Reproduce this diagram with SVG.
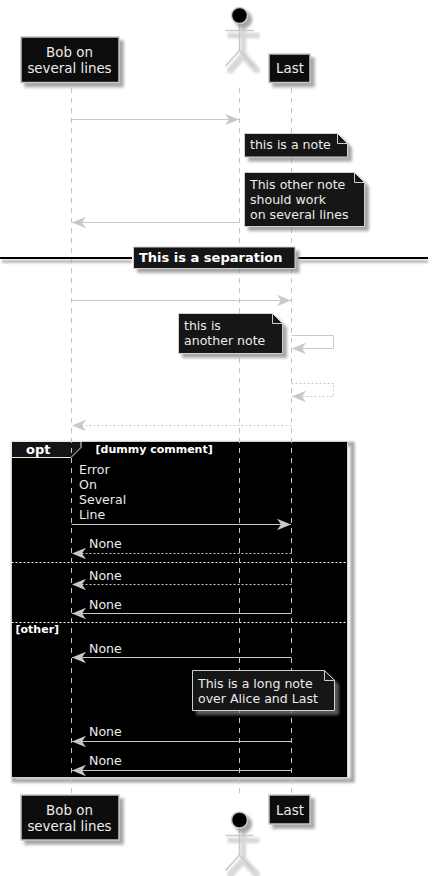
<svg xmlns="http://www.w3.org/2000/svg" width="434" height="876" viewBox="0 0 434 876">
<style>
text{font-family:"DejaVu Sans",sans-serif;fill:#ececec}
.p{font-size:13.4px}
.n{font-size:12.55px}
.t{font-size:13px}
.b{font-weight:bold;fill:#fff}
.box{fill:#080808;stroke:#c4c4c4;stroke-width:1.5;filter:url(#sh)}
.note{fill:#141414;stroke:#d0d0d0;stroke-width:1;filter:url(#sh)}
.fold{fill:none;stroke:#d0d0d0;stroke-width:1}
.life{stroke:#c4c4c4;stroke-width:1;stroke-dasharray:5 5;fill:none}
.m{stroke:#c8c8c8;stroke-width:1;fill:none;marker-end:url(#ah)}
.d{stroke-dasharray:2 2}
.sep{stroke:#fff;stroke-width:1;stroke-dasharray:2 2}
.act{stroke:#c8c8c8;stroke-width:1.5;fill:none;filter:url(#sl)}
.head{stroke:#c8c8c8;stroke-width:1.5;fill:#000;filter:url(#sh)}
</style>
<defs>
<filter id="sh" x="-40%" y="-40%" width="180%" height="180%">
<feGaussianBlur in="SourceAlpha" stdDeviation="1.6"/>
<feOffset dx="4" dy="4"/>
<feComponentTransfer result="a"><feFuncA type="linear" slope="0.7"/></feComponentTransfer>
<feFlood flood-color="#808080"/>
<feComposite in2="a" operator="in"/>
<feMerge><feMergeNode/><feMergeNode in="SourceGraphic"/></feMerge>
</filter>
<filter id="sl" filterUnits="userSpaceOnUse" x="215" y="0" width="60" height="876">
<feMorphology in="SourceAlpha" operator="dilate" radius="2"/>
<feGaussianBlur stdDeviation="0.9"/>
<feOffset dx="4" dy="5" result="a"/>
<feFlood flood-color="#d8d8d8"/>
<feComposite in2="a" operator="in"/>
<feMerge><feMergeNode/><feMergeNode in="SourceGraphic"/></feMerge>
</filter>
<filter id="bl" filterUnits="userSpaceOnUse" x="0" y="230" width="434" height="600"><feGaussianBlur stdDeviation="0.8"/></filter>
<marker id="ah" markerUnits="userSpaceOnUse" markerWidth="15" markerHeight="14" refX="14" refY="7" orient="auto">
<path d="M0,1.2 L14,7 L0,12.8 L4,7 Z" fill="#c8c8c8" stroke="none"/>
</marker>
</defs>

<g id="frame">
<rect x="14" y="444" width="338.5" height="336.5" fill="none" stroke="#aaa" stroke-width="4.5" filter="url(#bl)"/>
<rect x="11.5" y="441.5" width="336" height="336" fill="#000" stroke="#ccc" stroke-width="1"/>
<path d="M11.5,441.5H81V447.5L71,457.5H11.5Z" fill="#141414" stroke="#e8e8e8" stroke-width="1"/>
<text class="t b" x="26" y="454">opt</text>
<text class="b" font-size="11" x="95.5" y="453">[dummy comment]</text>
<line class="sep" x1="11.5" y1="562.5" x2="347.5" y2="562.5"/>
<line class="sep" x1="11.5" y1="622.5" x2="347.5" y2="622.5"/>
<text class="b" font-size="11" x="15.5" y="632.5">[other]</text>
</g>

<g id="connectors">
<line class="life" x1="71.5" y1="88" x2="71.5" y2="793"/>
<line class="life" x1="239.5" y1="88" x2="239.5" y2="793"/>
<line class="life" x1="291.5" y1="88" x2="291.5" y2="793"/>
<line class="m" x1="71.5" y1="119.5" x2="239" y2="119.5"/>
<line class="m" x1="239.5" y1="222.5" x2="72" y2="222.5"/>
<line class="m" x1="71.5" y1="300.5" x2="291" y2="300.5"/>
<path class="m" d="M291.5,335.5H333.5V348.5H292"/>
<path class="m d" d="M291.5,383.5H333.5V396.5H292"/>
<line class="m d" x1="291.5" y1="425.5" x2="72" y2="425.5"/>
<line class="m" x1="71.5" y1="524.5" x2="291" y2="524.5"/>
<line class="m d" x1="291.5" y1="553.5" x2="72" y2="553.5"/>
<line class="m d" x1="291.5" y1="584.5" x2="72" y2="584.5"/>
<line class="m" x1="291.5" y1="613.5" x2="72" y2="613.5"/>
<line class="m" x1="291.5" y1="657.5" x2="72" y2="657.5"/>
<line class="m" x1="291.5" y1="741.5" x2="72" y2="741.5"/>
<line class="m" x1="291.5" y1="770.5" x2="72" y2="770.5"/>
</g>

<g id="message-labels">
<text class="n" x="79" y="474">Error</text>
<text class="n" x="79" y="489">On</text>
<text class="n" x="79" y="504">Several</text>
<text class="n" x="79" y="519">Line</text>
<text class="n" x="89" y="548">None</text>
<text class="n" x="89" y="580">None</text>
<text class="n" x="89" y="609">None</text>
<text class="n" x="89" y="653">None</text>
<text class="n" x="89" y="736">None</text>
<text class="n" x="89" y="765">None</text>
</g>

<g id="bob-top">
<rect class="box" x="21" y="37" width="98" height="45.5"/>
<text class="p" x="69.5" y="57" text-anchor="middle">Bob on</text>
<text class="p" x="69.5" y="73" text-anchor="middle">several lines</text>
</g>
<g id="alice-top">
<path class="act" d="M239.5,23.5V50.5M225.5,30.5H253.5M239.5,50.5L225.5,66M239.5,50.5L253.5,66"/>
<circle class="head" cx="239.5" cy="15.5" r="8"/>
</g>
<g id="last-top">
<rect class="box" x="269" y="54" width="41" height="28.5"/>
<text class="p" x="276" y="73">Last</text>
</g>

<g id="note-1">
<path class="note" d="M244.5,133.5H337.5L347.5,143.5V157H244.5Z"/>
<path class="fold" d="M337.5,133.5V143.5H347.5"/>
<text class="n" x="250" y="149">this is a note</text>
</g>
<g id="note-2">
<path class="note" d="M244.5,172.5H354.5L364.5,182.5V226.5H244.5Z"/>
<path class="fold" d="M354.5,172.5V182.5H364.5"/>
<text class="n" x="250" y="189">This other note</text>
<text class="n" x="250" y="204">should work</text>
<text class="n" x="250" y="219">on several lines</text>
</g>

<g id="separator">
<line x1="2" y1="261.5" x2="132" y2="261.5" stroke="#aaa" stroke-width="2.5" filter="url(#bl)"/>
<line x1="300" y1="261.5" x2="428" y2="261.5" stroke="#aaa" stroke-width="2.5" filter="url(#bl)"/>
<line x1="0" y1="258" x2="132" y2="258" stroke="#000" stroke-width="2"/>
<line x1="298" y1="258" x2="428" y2="258" stroke="#000" stroke-width="2"/>
<rect class="note" x="133.5" y="247" width="161.5" height="21.5"/>
<text class="t b" x="139" y="262">This is a separation</text>
</g>

<g id="note-3">
<path class="note" d="M178.5,313.5H272.5L282.5,323.5V353.5H178.5Z"/>
<path class="fold" d="M272.5,313.5V323.5H282.5"/>
<text class="n" x="184" y="330">this is</text>
<text class="n" x="184" y="345">another note</text>
</g>

<g id="note-4">
<path class="note" d="M192.5,670.5H324.5L334.5,680.5V710.5H192.5Z"/>
<path class="fold" d="M324.5,670.5V680.5H334.5"/>
<text class="n" x="198" y="688">This is a long note</text>
<text class="n" x="198" y="703">over Alice and Last</text>
</g>

<g id="bob-bottom">
<rect class="box" x="21" y="795" width="98" height="45"/>
<text class="p" x="69.5" y="815" text-anchor="middle">Bob on</text>
<text class="p" x="69.5" y="831" text-anchor="middle">several lines</text>
</g>
<g id="alice-bottom">
<path class="act" d="M239.5,828V855M225.5,835.5H253.5M239.5,855L225.5,870.5M239.5,855L253.5,870.5"/>
<circle class="head" cx="239.5" cy="820" r="8"/>
</g>
<g id="last-bottom">
<rect class="box" x="269" y="795" width="41" height="29"/>
<text class="p" x="276" y="815">Last</text>
</g>
</svg>
